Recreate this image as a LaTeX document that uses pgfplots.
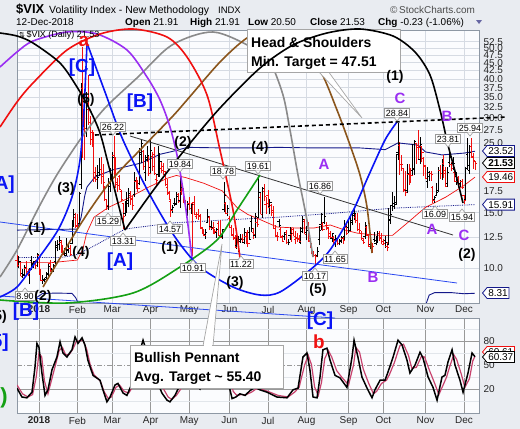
\documentclass[border=0pt]{standalone}
\usepackage{pgfplots}
\pgfplotsset{compat=1.18}
\usepackage{pgfplotstable}
\usepackage{fontspec}
\setmainfont{Liberation Sans}
\newfontfamily\dejavu{DejaVu Sans}
\usetikzlibrary{shapes.symbols}

\definecolor{bgc}{HTML}{E9ECF1}
\definecolor{plotbg}{HTML}{FBFCFE}
\definecolor{gridc}{HTML}{D6DBE3}
\definecolor{framec}{HTML}{8E98A4}
\definecolor{navyb}{HTML}{14198A}
\definecolor{wblue}{HTML}{0A14F5}
\definecolor{tblue}{HTML}{2A48F0}
\definecolor{wpurple}{HTML}{9A2EF2}
\definecolor{wgreen}{HTML}{14A014}
\definecolor{wbrown}{HTML}{8A551C}
\definecolor{wgray}{HTML}{8A8A8A}
\definecolor{kpink}{HTML}{C8436E}
\definecolor{redb}{HTML}{F01010}

\newcommand\fs[1]{\fontsize{#1}{#1}\selectfont}

% open / close ticks of the OHLC bars
\pgfdeclareplotmark{oL}{\pgfpathmoveto{\pgfpoint{-1.7bp}{0pt}}\pgfpathlineto{\pgfpoint{0pt}{0pt}}\pgfusepathqstroke}
\pgfdeclareplotmark{cR}{\pgfpathmoveto{\pgfpoint{0pt}{0pt}}\pgfpathlineto{\pgfpoint{1.7bp}{0pt}}\pgfusepathqstroke}

\pgfplotsset{
  panel/.style={
    scale only axis, width=462bp,
    xmin=-12, xmax=240.2,
    axis background/.style={fill=plotbg},
    axis line style={framec, line width=0.7bp},
    major tick length=0pt, minor tick length=0pt,
    xtick={0,21,40,61,82,104,125,146,169,188,211,232},
    xticklabels={\textbf{2018},Feb,Mar,Apr,May,Jun,Jul,Aug,Sep,Oct,Nov,Dec},
    xmajorgrids, ymajorgrids,
    major grid style={gridc, line width=0.5bp},
    tick label style={font=\fs{10}, text=black!85},
    yticklabel pos=right,
    yticklabel style={anchor=west, xshift=1bp},
  },
}
\tikzset{
  plab/.style={draw=black!40, fill=white, inner sep=1.1bp, font=\fs{9}, line width=0.6bp},
  wl/.style={font=\bfseries\fs{14}, text=black, inner sep=0pt},
  wb/.style={font=\bfseries\fs{19}, text=wblue, inner sep=0pt},
  wp/.style={font=\bfseries\fs{15}, text=wpurple, inner sep=0pt},
}

% x = trading day (0 = 2 Jan 2018); up days (close above previous close)
\pgfplotstableread{
x o h l c
-11 10.2 10.9 10.0 10.49
-9 9.6 9.9 9.3 9.53
-8 9.5 10.2 9.4 10.03
-5 9.6 10.0 8.90 9.90
-4 10.6 10.9 10.1 10.25
-3 10.3 10.5 10.0 10.47
-1 10.2 11.2 10.1 11.04
2 9.1 9.5 8.92 9.22
3 9.1 9.3 9.0 9.22
4 9.3 9.7 9.2 9.52
5 9.6 10.3 9.4 10.08
7 9.8 10.0 9.6 9.88
8 9.9 10.3 9.7 10.16
9 10.5 12.2 10.3 11.66
10 11.8 12.3 11.3 11.91
11 11.9 12.6 11.4 12.22
14 11.1 11.6 10.9 11.10
15 11.0 12.5 10.9 11.47
16 11.4 12.0 11.2 11.58
18 12.0 14.2 11.9 13.84
19 14.1 15.4 13.5 14.79
22 13.9 17.4 13.7 17.31
23 18.4 38.8 17.8 37.32
26 27.8 36.2 26.1 33.46
32 19.7 21.2 17.8 19.46
33 20.2 22.4 19.6 20.60
38 15.7 19.3 15.3 18.59
39 18.2 20.8 17.5 19.85
40 19.7 23.4 19.0 22.47
47 14.9 16.3 14.6 15.78
48 15.8 17.5 15.0 16.35
49 16.0 18.0 15.6 17.23
52 17.2 20.2 16.8 19.02
55 18.6 24.0 18.4 23.34
56 22.9 25.6 21.6 24.87
58 20.2 22.9 18.9 22.50
59 22.2 24.5 21.7 22.87
61 20.9 25.7 19.9 23.62
65 19.8 24.5 19.5 21.49
66 20.9 23.3 19.5 21.77
73 15.4 15.9 15.0 15.60
74 16.1 16.7 15.7 15.96
75 16.0 17.4 15.9 16.88
77 16.4 19.84 15.5 18.02
81 15.0 16.3 14.6 15.93
83 15.5 16.1 14.9 15.97
91 12.8 13.3 12.4 12.93
92 14.0 15.4 13.9 14.63
94 13.6 14.1 13.2 13.43
97 13.0 13.4 12.5 13.22
100 12.6 13.3 12.4 13.22
101 15.4 18.78 15.1 17.02
103 14.9 15.9 14.6 15.43
108 11.8 13.1 11.5 12.13
109 12.3 12.6 11.22 12.18
110 12.3 12.8 12.0 12.35
112 12.1 13.4 11.9 12.94
115 13.0 13.5 12.3 12.31
116 14.1 14.6 13.0 13.35
118 12.7 15.0 12.5 14.64
120 14.5 19.61 14.4 17.33
122 14.8 18.1 14.4 17.91
126 15.7 16.6 14.8 16.14
131 14.1 14.3 13.5 13.63
134 12.6 13.0 12.3 12.83
136 12.1 12.4 11.8 12.10
137 12.7 13.5 12.3 12.87
143 12.1 13.5 11.9 13.03
144 13.4 14.6 12.9 14.26
146 13.0 13.6 12.3 13.15
152 11.0 11.7 10.8 11.27
153 12.3 13.6 11.8 13.16
154 13.8 15.0 13.2 14.78
156 14.0 16.86 13.8 14.64
160 12.4 12.9 12.1 12.86
162 12.3 12.7 11.65 12.41
164 12.0 12.4 11.8 12.16
165 12.2 12.6 12.0 12.50
167 12.6 14.2 12.3 13.53
169 13.5 14.2 12.9 13.16
170 13.2 14.6 13.1 13.91
171 14.2 15.2 13.7 14.65
172 14.9 15.6 14.2 14.88
178 12.6 14.0 12.4 13.68
181 11.9 12.0 11.5 11.80
183 12.3 13.0 12.1 12.20
184 12.0 12.6 11.8 12.42
185 12.3 13.1 12.0 12.89
189 12.2 12.6 11.6 12.05
191 11.9 15.5 11.8 14.22
192 14.2 15.9 13.8 14.82
193 15.8 17.5 15.2 15.69
194 16.0 17.0 15.4 15.95
195 16.2 23.0 15.9 22.96
196 23.3 28.84 22.1 24.98
201 17.6 21.5 17.3 20.06
204 20.4 24.8 19.7 20.71
205 20.6 25.6 19.8 25.23
208 22.1 26.2 21.4 24.70
212 18.9 21.0 18.0 19.51
213 20.1 20.4 18.9 19.96
216 16.5 17.0 16.1 16.72
217 17.0 18.6 16.9 17.36
218 17.6 20.9 17.4 20.45
220 20.0 22.3 19.1 21.25
223 18.6 20.9 18.1 20.10
224 21.7 23.81 20.9 22.48
226 21.5 22.6 20.5 21.52
228 19.5 20.2 18.4 19.02
230 18.6 19.1 18.1 18.79
233 16.5 21.0 16.3 20.74
234 22.9 25.94 20.5 21.19
235 20.5 24.6 19.9 23.23
}\vixup

% down days
\pgfplotstableread{
x o h l c
-12 10.6 11.0 10.1 10.18
-10 10.4 10.5 9.4 9.42
-7 10.0 10.5 9.6 9.72
-6 9.6 9.9 9.4 9.62
-2 10.4 10.6 9.9 10.18
0 10.95 10.95 9.5 9.77
1 9.8 9.9 9.1 9.15
6 10.3 10.6 9.7 9.82
12 12.1 12.3 11.2 11.27
13 11.5 11.8 11.0 11.03
17 11.5 11.8 10.9 11.08
20 14.5 15.0 13.4 13.54
21 13.7 14.8 13.2 13.47
24 37.3 50.3 22.4 29.98
25 27.6 31.6 22.0 27.73
27 32.0 41.1 28.5 29.06
28 28.0 30.5 24.7 25.61
29 27.0 27.5 24.3 24.97
30 26.1 27.0 18.8 19.26
31 20.1 21.0 18.8 19.13
34 20.6 22.5 18.5 20.02
35 19.6 21.4 17.9 18.72
36 17.8 18.3 16.3 16.49
37 16.5 16.6 15.29 15.80
41 22.8 26.22 19.3 19.59
42 21.0 22.6 18.0 18.73
43 18.5 19.3 17.5 18.36
44 19.5 19.7 17.7 17.76
45 17.5 17.7 16.3 16.54
46 16.0 16.1 13.31 14.64
50 17.0 17.6 15.9 16.59
51 16.5 17.0 15.3 15.80
53 18.8 19.5 17.9 18.20
54 18.2 19.0 17.4 17.86
57 23.4 23.8 20.5 21.03
60 21.9 22.9 19.6 19.97
62 22.6 23.4 20.4 21.10
63 23.0 24.3 19.8 20.06
64 19.2 19.8 18.2 18.94
67 20.7 21.7 20.0 20.47
68 21.0 21.6 19.7 20.24
69 19.8 20.3 18.3 18.49
70 18.0 19.2 17.1 17.41
71 17.3 17.6 16.5 16.56
72 16.3 16.4 14.57 15.25
76 17.1 17.3 16.1 16.34
78 17.5 19.6 17.1 17.84
79 17.6 18.0 16.1 16.24
80 16.2 16.4 15.3 15.41
82 16.1 16.8 15.3 15.49
84 16.0 16.2 10.91 15.90
85 16.2 17.0 14.7 14.77
86 14.6 15.1 14.3 14.75
87 14.8 15.4 14.2 14.71
88 14.6 14.9 13.3 13.42
89 13.4 13.5 12.8 13.23
90 13.0 13.2 12.6 12.65
93 14.5 14.6 13.2 13.42
95 13.4 14.0 12.9 13.42
96 12.9 13.3 12.8 13.08
98 13.9 14.1 12.6 12.58
99 12.7 14.2 12.5 12.53
102 16.1 16.2 14.8 14.94
104 14.4 14.6 13.4 13.46
105 13.5 13.7 12.7 12.74
106 12.7 13.4 12.3 12.40
107 12.5 12.7 11.6 11.64
111 12.4 12.8 12.0 12.34
113 12.6 13.0 11.9 12.12
114 12.6 13.2 11.7 11.98
117 13.0 13.4 12.4 12.79
119 14.0 14.5 13.5 13.77
121 16.8 17.3 14.8 14.85
123 17.5 18.5 16.3 16.85
124 15.9 16.8 14.9 16.09
125 17.0 17.7 15.6 15.60
127 15.8 16.0 14.6 14.97
128 15.2 15.7 13.3 13.37
129 13.4 13.7 12.6 12.69
130 12.6 13.0 12.2 12.64
132 13.3 13.5 12.5 12.58
133 12.5 12.7 12.1 12.18
135 13.0 13.2 11.9 12.06
138 12.8 13.4 12.1 12.86
139 13.3 13.4 12.6 12.62
140 12.3 13.1 11.9 12.41
141 12.5 12.9 12.1 12.29
142 12.4 12.7 12.0 12.14
145 14.1 14.3 12.8 12.83
147 13.7 14.0 12.2 12.19
148 12.2 12.3 11.6 11.64
149 11.8 12.0 11.1 11.27
150 11.2 11.3 10.8 10.93
151 11.0 11.1 10.17 10.85
155 13.8 14.0 13.1 13.31
157 13.7 14.0 13.2 13.45
158 13.4 13.5 12.4 12.64
159 12.9 13.1 12.4 12.49
161 12.5 12.6 11.9 12.25
163 12.3 12.4 11.8 11.99
166 12.4 12.6 11.9 12.25
168 13.5 14.0 12.7 12.86
173 14.5 14.8 13.9 14.16
174 14.2 15.0 13.1 13.22
175 13.3 13.9 12.9 13.14
176 12.9 13.1 12.3 12.37
177 12.2 12.5 11.9 12.07
179 13.5 13.6 12.6 12.79
180 12.7 12.8 11.7 11.75
182 11.7 12.0 11.2 11.68
186 12.9 13.1 12.2 12.41
187 12.5 12.9 11.9 12.12
188 11.9 12.4 11.8 12.00
190 11.7 12.1 11.3 11.61
197 24.5 25.2 19.8 21.31
198 21.3 22.8 20.4 21.30
199 20.7 20.8 17.4 17.62
200 17.8 20.3 16.9 17.40
202 19.9 21.4 18.4 19.89
203 19.6 20.8 18.6 19.64
206 24.9 25.0 21.5 24.22
207 24.6 27.5 22.1 24.16
209 24.3 24.5 21.7 23.35
210 22.3 22.6 19.6 21.23
211 21.0 21.3 19.2 19.34
214 20.0 20.3 18.9 19.91
215 18.0 18.3 16.09 16.36
219 20.4 21.2 19.2 20.02
221 21.5 22.8 19.3 19.98
222 20.5 21.0 18.1 18.14
225 21.3 21.7 20.3 20.80
227 20.2 20.7 18.8 18.90
229 19.4 19.6 18.0 18.49
231 18.8 19.2 17.9 18.07
232 17.0 17.1 15.94 16.44
236 24.3 25.9 22.6 22.64
237 22.4 23.2 20.7 21.76
238 21.91 21.91 20.50 21.53
}\vixdn

\begin{document}
\begin{tikzpicture}
\path[use as bounding box] (0,0) rectangle (520bp,-429bp);
\fill[bgc] (0,0) rectangle (520bp,-429bp);

%% ---------------- price panel ----------------
\begin{axis}[panel,
  at={(17bp,-303bp)}, anchor=south west, height=273bp,
  ymode=log, ymin=7.738, ymax=57.18,
  ytick={10,12.5,15,17.5,20,22.5,25,27.5,30,32.5,35,37.5,40,42.5,45,47.5,50,52.5},
  yticklabels={10.0,12.5,15.0,17.5,,,25.0,27.5,30.0,32.5,35.0,37.5,40.0,42.5,45.0,47.5,50.0,52.5},
  xticklabel style={yshift=0.5bp},
]
% Bollinger bands and moving average
\addplot[navyb, line width=0.9bp] coordinates {(-12,13.2) (21,13.3) (23,14.5) (25,17) (26.2,18.1) (30.6,19.5) (40,20.5) (56,21.6) (66,23.0) (73,23.5) (81,24.2) (100,24.1) (119,24.1) (130,24.2) (150,24.1) (175,24.1) (189,23.8) (196,25.0) (207,24.6) (211,23.4) (220,22.9) (232,23.2) (238,23.52)};
\addplot[navyb, line width=0.9bp] coordinates {(-12,7.95) (-2,8.0) (2,8.3) (10,8.32) (18,8.3) (20,8.05) (22,7.6) (24,6) (209,6) (211,7.6) (213,8.2) (216,8.35) (225,8.35) (232,8.28) (238,8.31)};
\addplot[navyb, line width=0.8bp, densely dotted] coordinates {(-12,10.8) (12,10.8) (20,11.0) (27,11.5) (47,13.3) (72,13.9) (100,14.2) (130,14.5) (159,14.9) (193,15.5) (238,15.91)};
\addplot[redb, line width=0.7bp] coordinates {(-12,10.4) (7,10.4) (21,10.6) (24,11.5) (26,12.9) (30,14.5) (38,15.6) (47,16.5) (60,18.1) (70,19.3) (75,19.7) (80,19.4) (85,19.0) (90,18.6) (100,17.6) (108,15.6) (114,14.8) (119,14.4) (130,13.5) (141,13.4) (150,13.4) (159,13.7) (167,13.2) (174,12.9) (186,12.7) (193,12.7) (201,13.9) (211,15.6) (222,16.8) (232,18.3) (238,19.46)};
% OHLC bars: up days black, down days red
\addplot[draw=none, mark=none,
  error bars/.cd, y dir=plus, y explicit, error mark=none,
  error bar style={draw=black, line width=0.9bp}]
  table[x=x, y=l, y error expr=\thisrow{h}-\thisrow{l}] {\vixup};
\addplot[only marks, mark=oL, black, mark options={line width=0.9bp}] table[x=x, y=o] {\vixup};
\addplot[only marks, mark=cR, black, mark options={line width=0.9bp}] table[x=x, y=c] {\vixup};
\addplot[draw=none, mark=none,
  error bars/.cd, y dir=plus, y explicit, error mark=none,
  error bar style={draw=redb, line width=0.9bp}]
  table[x=x, y=l, y error expr=\thisrow{h}-\thisrow{l}] {\vixdn};
\addplot[only marks, mark=oL, redb, mark options={line width=0.9bp}] table[x=x, y=o] {\vixdn};
\addplot[only marks, mark=cR, redb, mark options={line width=0.9bp}] table[x=x, y=c] {\vixdn};
\end{axis}

%% ---------------- oscillator panel ----------------
\begin{axis}[panel,
  at={(17bp,-413bp)}, anchor=south west, height=95bp,
  ymin=-10, ymax=108.75,
  ytick={20,80}, yticklabels={20,80},
  extra y ticks={50}, extra y tick labels={50},
  extra y tick style={grid style={black!45, line width=0.6bp, dash pattern=on 5bp off 2bp on 1bp off 2bp}},
  minor ytick={5,35,65,95}, yminorgrids,
  minor grid style={gridc!70, line width=0.4bp},
  major grid style={black!40, line width=0.6bp},
  xticklabel style={yshift=-0.5bp},
]
\addplot[kpink, line width=1.2bp] coordinates {(-12,25) (-9,14) (-6,10) (-3.5,13) (-1.5,35) (0,65) (1.5,60) (3,30) (4.9,14) (6.5,28) (9,50) (11,68) (12.8,72) (14.5,63) (16.5,63) (18.5,70) (20.5,80) (22,80) (24,81) (26,70) (28,50) (30,38) (33.5,30) (35.5,17) (37.8,8) (39.5,10) (42,22) (44,25) (46.5,17) (49,15) (51.5,24) (54,45) (57,72) (59.5,70) (62,52) (65,35) (68,20) (70.5,10) (72.5,7) (75,12) (78,22) (80.5,28) (83,25) (86,26) (88.5,23) (91,30) (94,44) (96.5,44) (99.5,50) (102,58) (104,40) (106,17) (108,12) (110.5,13) (113,13) (116,16) (118.5,20) (121,20) (125,17) (130.5,12) (136,10) (139.5,16) (142,22) (145,50) (147,62) (148.8,50) (150.5,22) (152.5,12) (154.2,28) (156,58) (158,68) (159.8,60) (162.5,43) (165.2,35) (169,25) (171.7,50) (173,72) (175,66) (177,45) (180,27) (182.6,14) (184.3,17) (187,27) (189.7,31) (191.3,38) (194,53) (197,74) (199,76) (201.7,62) (203.5,46) (206,47) (208.8,61) (210.5,60) (213.2,43) (216,27) (218.3,13) (221,27) (222.5,35) (224.2,48) (226.4,63) (228,57) (230.6,38) (232.5,22) (235,33) (236.8,55) (238,61)};
\addplot[black, line width=1.5bp] coordinates {(-12,21) (-9.3,10) (-6.6,9) (-3.8,16) (-2.2,47) (-1.1,77) (0,72) (1.6,40) (3.3,12) (4.9,19) (7.1,44) (9.8,60) (11.5,79) (13.1,65) (15.3,60) (15.8,62) (18,69) (19.7,85) (21.3,77) (23.5,84) (25.1,75) (26.7,56) (29.5,37) (33.3,31) (34.9,19) (37.1,4) (38.8,10) (41.5,25) (43.1,27) (45.9,15) (48,12) (50.8,27) (53.5,55) (56.8,81) (59,65) (61.7,45) (64.4,30) (67.1,15) (69.9,6) (71.5,4) (74.2,12) (77,25) (79.7,30) (82.4,22) (85.2,28) (87.9,20) (90.6,35) (93.4,50) (96.1,40) (98.8,55) (101.6,62) (103.2,30) (105.4,8) (107.5,10) (109.7,14) (112.5,12) (115.2,18) (117.9,22) (120.6,19) (124.5,16) (129.9,10) (135.4,9) (138.7,19) (141.4,21) (144.1,60) (146.3,65) (147.9,44) (149.6,10) (151.8,9) (153.4,35) (155,69) (157.2,71) (158.9,56) (161.6,37) (164.3,34) (168.1,22) (170.9,60) (172,81) (174.1,60) (176.3,35) (179.1,21) (181.8,9) (183.4,19) (186.2,31) (188.9,31) (190.5,41) (193.3,60) (196,81) (198.2,75) (200.9,56) (202.5,40) (205.3,50) (208,66) (209.6,59) (212.4,35) (215.1,22) (217.3,6) (220,35) (221.6,37) (223.3,54) (225.5,69) (227.1,50) (229.8,31) (231.5,16) (234.2,40) (236.4,65) (238,60.37)};
\end{axis}

%% ---------------- annotation layer (pixel units, y down) ----------------
\begin{axis}[at={(0bp,-320bp)}, anchor=south west, width=520bp, height=292bp,
  scale only axis, xmin=0, xmax=520, ymin=28, ymax=320, y dir=reverse, hide axis]
\addplot[tblue, line width=0.8bp] coordinates {(0,222) (457,283)};
\addplot[tblue, line width=0.8bp] coordinates {(0,296) (335,318)};
\addplot[black!80, line width=0.8bp] coordinates {(130,136) (453,235)};
\addplot[wgray, line width=1.6bp, smooth] coordinates {(0,277) (17,250) (40,205) (58,173) (82,137) (105,108) (138,77) (172,45) (213,32) (253,48) (270,62) (283,95) (290,130) (298,175) (306,215) (313,257)};
\addplot[wbrown, line width=1.6bp, smooth] coordinates {(43,287) (80,225) (110,182) (140,150) (172,117) (187,100) (220,62) (247,38) (270,30) (295,37) (320,70) (337,110) (350,145) (360,175) (367,207) (372,253)};
\addplot[wpurple, line width=1.6bp, smooth] coordinates {(0,67) (17,52) (33,41) (67,32) (97,34) (127,50) (147,77) (160,100) (170,127) (178,160) (186,210) (192,258)};
\addplot[redb, line width=1.6bp, smooth] coordinates {(0,127) (17,102) (33,83) (67,50) (100,34) (133,29) (167,37) (187,57) (207,95) (220,150) (233,210) (240,258)};
\addplot[wgreen, line width=1.6bp, smooth] coordinates {(0,300) (67,303) (133,293) (180,267) (217,240) (237,210) (260,175)};
\addplot[wblue, line width=1.6bp, smooth] coordinates {(0,297) (17,287) (35,263) (58,230) (72,197) (80,160) (84,110) (87,43)};
\addplot[wblue, line width=1.6bp, smooth] coordinates {(87,43) (105,92) (123,140) (150,195) (175,237) (200,267) (233,287) (260,295) (280,292) (310,270) (330,250) (352,213) (368,177) (385,140) (397,122)};
% Head & Shoulders callout (the black arc runs over it)
\fill[white, draw=black!35, line width=0.7bp] (axis cs:318,71) -- (axis cs:362,118) -- (axis cs:328,71) -- cycle;
\draw[fill=white, draw=black!35, line width=0.8bp] (axis cs:247,29) rectangle (axis cs:400,72);
\node[anchor=base west, font=\bfseries\fs{14}, inner sep=0pt] at (axis cs:251,47) {Head \& Shoulders};
\node[anchor=base west, font=\bfseries\fs{14}, inner sep=0pt] at (axis cs:251,66) {Min. Target = 47.51};
\addplot[black, line width=1.6bp, smooth] coordinates {(0,33) (17,36) (33,43) (60,63) (77,87) (90,110) (100,133) (108,163) (118,203) (125,230)};
\addplot[black, line width=1.6bp, smooth] coordinates {(125,230) (155,188) (187,147) (220,108) (260,68) (293,45) (327,33) (360,29) (393,36) (415,52) (430,75) (440,110) (448,145) (456,175) (463,203)};
\addplot[black, line width=1.6bp, dash pattern=on 4bp off 3bp] coordinates {(95,135) (507,117)};
\end{axis}

\begin{scope}[x=1bp, y=-1bp]
% header
\node[anchor=base west, inner sep=0pt, font=\bfseries\fs{13}] at (16,13) {\$VIX};
\node[anchor=base west, inner sep=0pt, font=\fs{10.5}] at (49,13) {Volatility Index - New Methodology};
\node[anchor=base west, inner sep=0pt, font=\fs{9.5}] at (218,13) {INDX};
\node[anchor=base west, inner sep=0pt, font=\fs{10}, text=black!70] at (390,13) {\textcopyright\,StockCharts.com};
\node[anchor=base west, inner sep=0pt, font=\fs{10}] at (16,25) {12-Dec-2018};
\node[anchor=base west, inner sep=0pt, font=\fs{10}] at (125,25) {\textbf{Open} 21.91};
\node[anchor=base west, inner sep=0pt, font=\fs{10}] at (190,25) {\textbf{High} 21.91};
\node[anchor=base west, inner sep=0pt, font=\fs{10}] at (248,25) {\textbf{Low} 20.50};
\node[anchor=base west, inner sep=0pt, font=\fs{10}] at (310,25) {\textbf{Close} 21.53};
\node[anchor=base west, inner sep=0pt, font=\fs{10}] at (378,25) {\textbf{Chg} -0.23 (-1.06\%)};
\fill[black!60!blue!60] (476,20) -- (482,20) -- (479,24) -- cycle;
\node[anchor=west, inner sep=0pt, font=\fs{9}] at (19,35) {{\dejavu\fs{7}⇅}\,\$VIX (Daily) 21.53};

% price labels (highs: pointer below, lows: pointer above)
\foreach \px/\py/\t in {113/127/26.22, 180/164/19.84, 223/171/18.78, 258/166/19.61, 320/186/16.86, 397/113/28.84, 448/139/23.81, 470/128/25.94}{
  \node[plab] (pl) at (\px,\py) {\t};
  \draw[black!40, fill=white, line width=0.6bp] ([xshift=-3bp,yshift=0.3bp]pl.south) -- ([yshift=-3.5bp]pl.south) -- ([xshift=3bp,yshift=0.3bp]pl.south);
}
\foreach \px/\py/\t in {25/296/8.90, 108/221/15.29, 123/241/13.31, 170/229/14.57, 193/268/10.91, 241/264/11.22, 315/276/10.17, 335/259/11.65, 435/214/16.09, 462/217/15.94}{
  \node[plab] (pl) at (\px,\py) {\t};
  \draw[black!40, fill=white, line width=0.6bp] ([xshift=-3bp,yshift=-0.3bp]pl.north) -- ([yshift=3.5bp]pl.north) -- ([xshift=3bp,yshift=-0.3bp]pl.north);
}

% wave labels
\node[wl] at (86,100) {(5)};
\node[wl] at (66,189) {(3)};
\node[wl] at (37,229) {(1)};
\node[wl] at (81,253) {(4)};
\node[wl] at (43,297) {(2)};
\node[wl] at (183,143) {(2)};
\node[wl] at (170,248) {(1)};
\node[wl] at (260,148) {(4)};
\node[wl] at (235,283) {(3)};
\node[wl] at (318,290) {(5)};
\node[wl] at (395,77) {(1)};
\node[wl] at (467,255) {(2)};
\node[wl, anchor=east] at (7,317) {(5)};
\node[wb] at (82,68) {[C]};
\node[wb] at (140,103) {[B]};
\node[wb] at (120,262) {[A]};
\node[wb, anchor=east] at (15,185) {[A]};
\node[wb] at (26,312) {[B]};
\node[wb, anchor=east] at (9,343) {[5]};
\node[wb] at (320,321) {[C]};
\node[font=\bfseries\fs{22}, text=wgreen, inner sep=0pt, anchor=east] at (8,398) {(1)};
\node[wp] at (400,98) {C};
\node[wp] at (447,116) {B};
\node[wp] at (324,164) {A};
\node[wp] at (432,229) {A};
\node[wp] at (464,235) {C};
\node[wp] at (373,277) {B};
\node[font=\bfseries\fs{19}, text=redb, inner sep=0pt] at (84,41) {a};
\node[font=\bfseries\fs{19}, text=redb, inner sep=0pt] at (319,342) {b};

% Bullish Pennant callout
\fill[white, draw=black!35, line width=0.7bp] (203,346) -- (222,244) -- (213,346) -- cycle;
\draw[fill=white, draw=black!35, line width=0.8bp] (130,345) rectangle (283,388);
\fill[white] (204,344) rectangle (212,347);
\node[anchor=base west, font=\bfseries\fs{14}, inner sep=0pt] at (134,362) {Bullish Pennant};
\node[anchor=base west, font=\bfseries\fs{14}, inner sep=0pt] at (134,381) {Avg. Target \textasciitilde{} 55.40};

% right-hand value tags
\foreach \ty/\tc/\tt in {151/navyb/23.52, 177/redb/19.46, 204.6/navyb/15.91, 293/navyb/8.31, 352/redb/60.61}{
  \node[signal, signal to=west, signal pointer angle=100, draw=\tc, fill=white, line width=0.8bp,
    inner sep=1.2bp, minimum height=11bp, anchor=west, font=\fs{10}] at (482,\ty) {\tt};
}
\node[signal, signal to=west, signal pointer angle=100, draw=black, fill=white, line width=0.8bp,
  inner sep=1.2bp, minimum height=11bp, anchor=west, font=\bfseries\fs{10}] at (482,163) {21.53};
\node[signal, signal to=west, signal pointer angle=100, draw=black, fill=white, line width=0.8bp,
  inner sep=1.2bp, minimum height=11bp, anchor=west, font=\fs{10}] at (482,357) {60.37};
\end{scope}
\end{tikzpicture}
\end{document}
